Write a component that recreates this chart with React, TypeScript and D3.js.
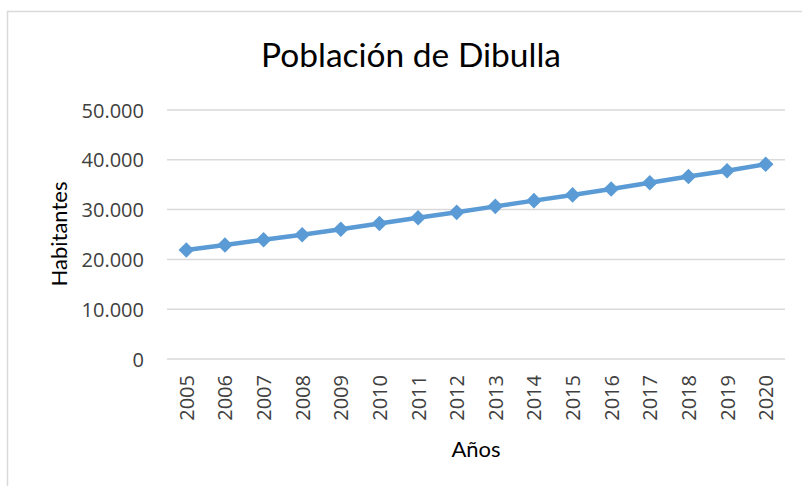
import React from "react";
import * as d3 from "d3";

const years = ["2005","2006","2007","2008","2009","2010","2011","2012","2013","2014","2015","2016","2017","2018","2019","2020"];
const population = [21900, 22900, 23950, 24950, 26050, 27200, 28350, 29450, 30650, 31800, 32950, 34150, 35400, 36650, 37800, 39100];
const yTicks = [0, 10000, 20000, 30000, 40000, 50000];
const title = "Población de Dibulla";
const xTitle = "Años";
const yTitle = "Habitantes";

const W = 802, H = 486;
const plot = { left: 167, right: 785, top: 110, bottom: 359 };
const color = "#5b9bd5";

const fmt = (v: number) => (v === 0 ? "0" : d3.format(",")(v).replace(/,/g, "."));

export default function App() {
  const x = d3.scaleBand<string>().domain(years).range([plot.left, plot.right]);
  const y = d3.scaleLinear().domain([0, 50000]).range([plot.bottom, plot.top]);
  const cx = (yr: string) => (x(yr) as number) + x.bandwidth() / 2;
  const line = d3.line<number>().x((_, i) => cx(years[i])).y((d) => y(d));
  const diamond = d3.symbol().type(d3.symbolDiamond2).size(155)();
  return (
    <svg width={W} height={H} style={{ position: "absolute", left: 0, top: 0, background: "#fff" }}>
      <rect x={7.5} y={11.5} width={W} height={H} fill="#fff" stroke="#d9d9d9" strokeWidth={1.5} />
      <text x={411} y={67} textAnchor="middle" fontFamily="Lato" fontSize={33.5} fill="#000">{title}</text>
      {yTicks.map((t) => (
        <g key={t}>
          <line x1={plot.left} x2={plot.right} y1={y(t)} y2={y(t)} stroke="#d9d9d9" strokeWidth={1.5} />
          <text x={144} y={y(t)} textAnchor="end" dominantBaseline="central" fontFamily="Open Sans" fontSize={20} fill="#404040">{fmt(t)}</text>
        </g>
      ))}
      {years.map((yr) => (
        <text key={yr} transform={`translate(${cx(yr)},375) rotate(-90)`} textAnchor="end" dominantBaseline="central" fontFamily="Open Sans" fontSize={20} fill="#404040">{yr}</text>
      ))}
      <path d={line(population) || ""} fill="none" stroke={color} strokeWidth={4.5} />
      {population.map((v, i) => (
        <path key={i} d={diamond || ""} transform={`translate(${cx(years[i])},${y(v)})`} fill={color} />
      ))}
      <text x={476} y={448} textAnchor="middle" dominantBaseline="central" fontFamily="Lato" fontSize={22} fill="#000">{xTitle}</text>
      <text transform="translate(58,234) rotate(-90)" textAnchor="middle" dominantBaseline="central" fontFamily="Lato" fontSize={22} fill="#000">{yTitle}</text>
    </svg>
  );
}
